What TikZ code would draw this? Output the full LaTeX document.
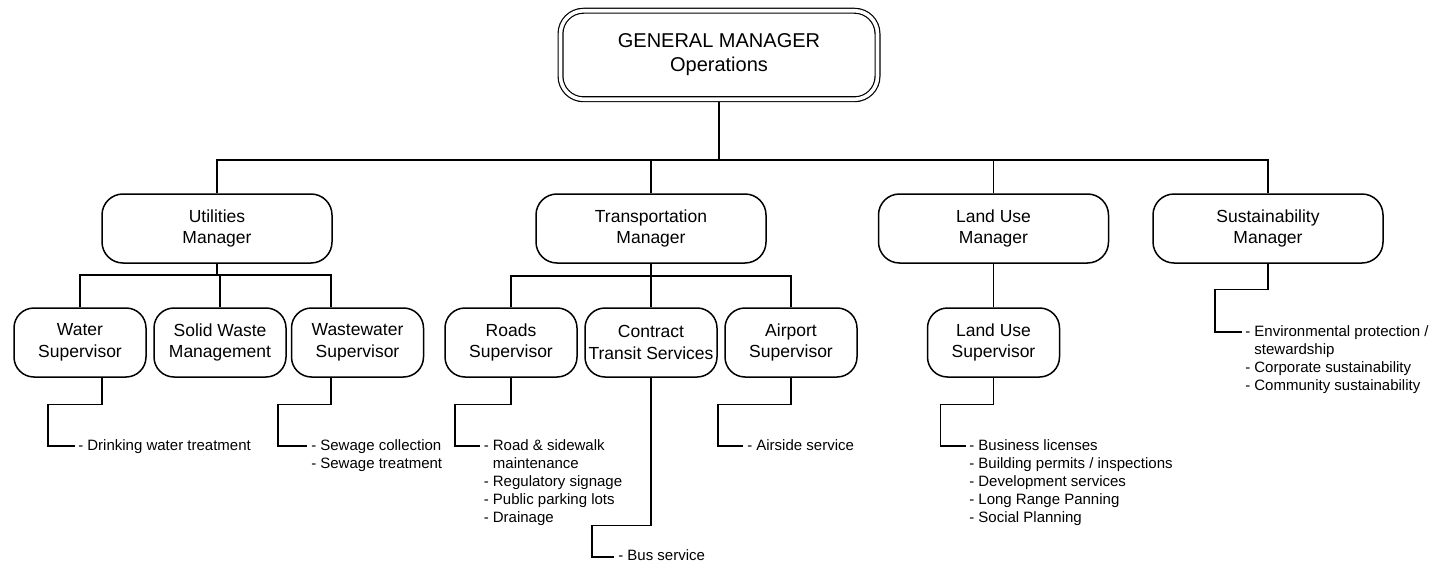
\documentclass[tikz,border=0pt]{standalone}
\usepackage{fontspec}
\setmainfont{Liberation Sans}
\usetikzlibrary{calc}
\begin{document}
\begin{tikzpicture}[x=1pt,y=-1pt,line width=1.5pt,
  chief/.style={draw, double, double distance=3.6pt, line width=1.2pt,
    rounded corners=23pt, minimum width=317pt, minimum height=88.5pt,
    inner sep=0pt, outer sep=3pt, align=center,
    font=\fontsize{20}{24}\selectfont},
  box/.style={draw, rounded corners=21pt, minimum width=230pt,
    minimum height=69pt, inner sep=0pt, align=center,
    font=\fontsize{17.5}{21.5}\selectfont},
  sub/.style={box, rounded corners=20pt, minimum width=132pt},
  duty/.style={anchor=base west, inner sep=0pt,
    font=\fontsize{15}{18}\selectfont}
]
\useasboundingbox (0,0) rectangle (1447,564);

% management boxes
\node[chief] (gm) at (719,55) {GENERAL MANAGER\\Operations};
\node[box] (util)  at (217,228.5)  {Utilities\\Manager};
\node[box] (trans) at (651,228.5)  {Transportation\\Manager};
\node[box] (land)  at (993.5,228.5) {Land Use\\Manager};
\node[box] (sust)  at (1268,228.5) {Sustainability\\Manager};

% supervisor boxes
\node[sub] (water)   at (80,342.5)    {Water\\Supervisor};
\node[sub] (solid)   at (220,342.5)   {Solid Waste\\Management};
\node[sub] (waste)   at (357.5,342.5) {Wastewater\\Supervisor};
\node[sub] (roads)   at (511,342.5)   {Roads\\Supervisor};
\node[sub] (transit) at (651,342.5)   {Contract\\Transit Services};
\node[sub] (airport) at (791,342.5)   {Airport\\Supervisor};
\node[sub] (landsup) at (993.5,342.5) {Land Use\\Supervisor};

% junctions of the reporting lines
\coordinate (top)  at (719,160);
\coordinate (ubar) at (217,275);
\coordinate (tbar) at (651,276);

\draw (gm.south) -- (top);
\draw (util.north) |- (top) -| (sust.north);
\draw (trans.north) -- (trans.north |- top);
\draw (land.north) -- (land.north |- top);

\draw (util.south) -- (ubar);
\draw (water.north) |- (ubar) -| ([xshift=-26.5pt]waste.north);
\draw (solid.north) -- (solid.north |- ubar);

\draw (trans.south) -- (tbar);
\draw (roads.north) |- (tbar) -| (airport.north);
\draw (transit.north) -- (transit.north |- tbar);

\draw (land.south) -- (landsup.north);

% duty lists
\coordinate (e1) at (75,446);
\coordinate (e2) at (307,446);
\coordinate (e3) at (480,446);
\coordinate (e4) at (614,557);
\coordinate (e5) at (743,446);
\coordinate (e6) at (966,446);
\coordinate (e7) at (1242,332);

\draw ([xshift=22pt]water.south) |- ++(-54,26.5) |- (e1);
\draw ([xshift=-26.5pt]waste.south) |- ++(-53,26.5) |- (e2);
\draw (roads.south) |- ++(-56,26.5) |- (e3);
\draw (transit.south) |- ++(-59,147.5) |- (e4);
\draw (airport.south) |- ++(-73,26.5) |- (e5);
\draw (landsup.south) |- ++(-53,26.5) |- (e6);
\draw (sust.south) |- ++(-53,25.5) |- (e7);

\node[duty] (d1) at ($(e1)+(2.5,4)$) {\begin{tabular}[t]{@{}l@{}}- Drinking water treatment\end{tabular}};
\node[duty] (d2) at ($(e2)+(3.5,4)$) {\begin{tabular}[t]{@{}l@{}}- Sewage collection\\- Sewage treatment\end{tabular}};
\node[duty] (d3) at ($(e3)+(3,4)$) {\begin{tabular}[t]{@{}l@{}}- Road \& sidewalk\\\hphantom{- }maintenance\\- Regulatory signage\\- Public parking lots\\- Drainage\end{tabular}};
\node[duty] (d4) at ($(e4)+(3.5,3)$) {- Bus service};
\node[duty] (d5) at ($(e5)+(3.5,4)$) {\begin{tabular}[t]{@{}l@{}}- Airside service\end{tabular}};
\node[duty] (d6) at ($(e6)+(2.5,4)$) {\begin{tabular}[t]{@{}l@{}}- Business licenses\\- Building permits / inspections\\- Development services\\- Long Range Panning\\- Social Planning\end{tabular}};
\node[duty] (d7) at ($(e7)+(2.5,4)$) {\begin{tabular}[t]{@{}l@{}}- Environmental protection /\\\hphantom{- }stewardship\\- Corporate sustainability\\- Community sustainability\end{tabular}};
\end{tikzpicture}
\end{document}
